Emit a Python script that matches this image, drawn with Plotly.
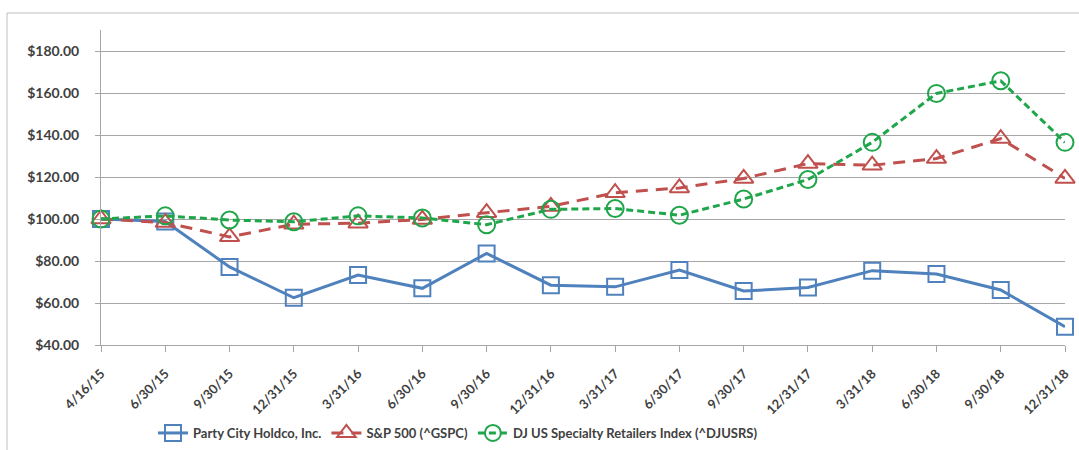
import plotly.graph_objects as go

dates = ["4/16/15", "6/30/15", "9/30/15", "12/31/15", "3/31/16", "6/30/16", "9/30/16",
         "12/31/16", "3/31/17", "6/30/17", "9/30/17", "12/31/17", "3/31/18", "6/30/18",
         "9/30/18", "12/31/18"]
party_city = [100.0, 98.8, 77.2, 62.5, 73.3, 67.0, 83.6, 68.5, 67.7, 75.7, 65.7, 67.4,
              75.4, 73.8, 66.2, 48.7]
sp500 = [100.0, 98.3, 91.5, 97.5, 98.0, 99.8, 103.0, 106.0, 112.5, 114.8, 119.3, 126.4,
         125.6, 128.8, 138.3, 119.3]
dj_retail = [100.0, 101.5, 99.5, 98.7, 101.5, 100.5, 97.3, 104.6, 105.0, 101.8, 109.5,
             118.8, 136.5, 159.8, 165.8, 136.5]

W, H = 1079, 450
L, R, T, B = 101, 14, 30, 105
pw, ph = W - L - R, H - T - B


def px(x):
    return (x - L) / pw


def py(y):
    return (H - B - y) / ph


BLUE = "#4F81BD"
RED = "#C0504D"
GREEN = "#1FA64A"
FONT = "Lato"
TXT = "#404040"
GRID = "#A6A6A6"

fig = go.Figure()
fig.add_trace(go.Scatter(
    x=dates, y=party_city, name="Party City Holdco, Inc.", mode="lines+markers",
    line=dict(color=BLUE, width=3),
    marker=dict(symbol="square-open", size=16, color=BLUE, line=dict(width=2, color=BLUE)),
    cliponaxis=False))
fig.add_trace(go.Scatter(
    x=dates, y=sp500, name="S&P 500 (^GSPC)", mode="lines+markers",
    line=dict(color=RED, width=3, dash="12px,8px"),
    marker=dict(symbol="triangle-up-open", size=17, color=RED, line=dict(width=2, color=RED)),
    cliponaxis=False))
fig.add_trace(go.Scatter(
    x=dates, y=dj_retail, name="DJ US Specialty Retailers Index (^DJUSRS)", mode="lines+markers",
    line=dict(color=GREEN, width=3, dash="7px,4px"),
    marker=dict(symbol="circle-open", size=17, color=GREEN, line=dict(width=2, color=GREEN)),
    cliponaxis=False))

fig.update_layout(
    width=W, height=H,
    margin=dict(l=L, r=R, t=T, b=B, autoexpand=False),
    paper_bgcolor="white", plot_bgcolor="white",
    font=dict(family=FONT, size=13, color=TXT),
    showlegend=True,
    legend=dict(orientation="h", x=px(458), xanchor="center", y=py(433), yanchor="middle",
                bgcolor="rgba(0,0,0,0)",
                font=dict(family=FONT, size=13, color=TXT, weight="bold"),
                itemclick=False, traceorder="normal"),
    xaxis=dict(type="category", range=[0, 15], showgrid=False, showline=True,
               linecolor=GRID, linewidth=1, ticks="outside", ticklen=6,
               tickcolor=GRID, tickangle=-45, automargin=False, ticklabelstandoff=9,
               tickfont=dict(family=FONT, size=13, color=TXT, weight="bold"), zeroline=False),
    yaxis=dict(range=[40, 190], tick0=40, dtick=20, tickprefix="$", tickformat=".2f",
               showgrid=True, gridcolor=GRID, gridwidth=1, showline=True,
               linecolor=GRID, linewidth=1, ticks="outside", ticklen=5,
               tickcolor=GRID, zeroline=False, automargin=False, ticklabelstandoff=13,
               tickfont=dict(family=FONT, size=14, color=TXT, weight="bold")),
    shapes=[dict(type="rect", xref="paper", yref="paper",
                 x0=px(7), x1=px(1085), y0=py(460), y1=py(13),
                 line=dict(color="#BFBFBF", width=1), fillcolor="rgba(0,0,0,0)", layer="below")],
)

fig.write_html("out.html")
